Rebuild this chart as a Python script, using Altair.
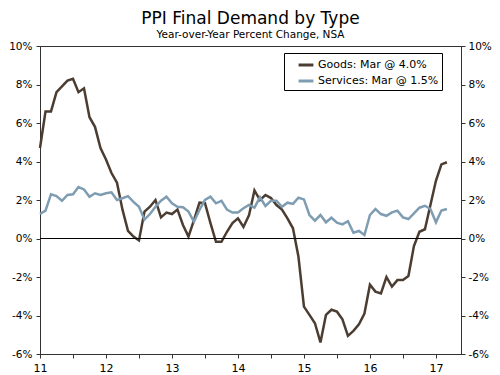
import altair as alt
import pandas as pd

# Monthly data Jan 2011 .. Mar 2017 (75 months)
goods = [4.7, 6.6, 6.6, 7.6, 7.9, 8.2, 8.3, 7.6, 7.8, 6.3, 5.8, 4.7,
         4.1, 3.4, 2.9, 1.5, 0.4, 0.1, -0.1, 1.4, 1.65, 2.0, 1.1, 1.35,
         1.27, 1.5, 0.7, 0.1, 0.96, 1.86, 1.83, 0.8, -0.17, -0.17, 0.35, 0.8,
         1.05, 0.6, 1.2, 2.5, 2.0, 2.26, 2.1, 1.74, 1.5, 1.05, 0.53, -0.95,
         -3.54, -3.97, -4.4, -5.4, -3.97, -3.7, -3.8, -4.2, -5.06, -4.8, -4.46, -3.9,
         -2.4, -2.76, -2.85, -2.0, -2.5, -2.16, -2.16, -1.95, -0.39, 0.35, 0.48, 1.74,
         3.0, 3.85, 3.96]
services = [1.27, 1.45, 2.3, 2.2, 1.96, 2.26, 2.3, 2.67, 2.55, 2.17, 2.35, 2.26,
            2.35, 2.4, 2.0, 2.09, 2.2, 1.9, 1.65, 0.98, 1.27, 1.65, 1.96, 2.17,
            1.83, 1.65, 1.62, 1.4, 0.87, 1.48, 2.0, 2.17, 1.83, 1.96, 1.5, 1.35,
            1.35, 1.57, 1.74, 1.6, 2.14, 1.69, 1.96, 1.96, 1.65, 1.86, 1.8, 2.12,
            2.03, 1.22, 0.93, 1.22, 0.84, 1.08, 0.82, 0.73, 0.9, 0.3, 0.39, 0.18,
            1.22, 1.53, 1.27, 1.18, 1.36, 1.45, 1.1, 1.01, 1.31, 1.6, 1.7, 1.53,
            0.84, 1.45, 1.53]
series_names = ["Goods: Mar @ 4.0%", "Services: Mar @ 1.5%"]
series_colors = ["#4b3d32", "#7f9db2"]
start_year = 2011
y_ticks = [-6, -4, -2, 0, 2, 4, 6, 8, 10]
x_ticks = [2011, 2011.5, 2012, 2012.5, 2013, 2013.5, 2014, 2014.5,
           2015, 2015.5, 2016, 2016.5, 2017]

rows = []
for name, vals in zip(series_names, [goods, services]):
    for i, v in enumerate(vals):
        rows.append({"t": start_year + i / 12.0, "v": v, "series": name})
df = pd.DataFrame(rows)

FONT = "DejaVu Sans"
xscale = alt.Scale(domain=[2011, 2017.38], nice=False, zero=False)
yscale = alt.Scale(domain=[-6, 10], nice=False, zero=False)

lines = alt.Chart(df).mark_line(strokeWidth=2.5).encode(
    x=alt.X("t:Q", scale=xscale,
            axis=alt.Axis(values=x_ticks, title=None, grid=False, labelFlush=False,
                          labelExpr="datum.value % 1 == 0 ? format(datum.value - 2000, 'd') : ''",
                          tickSize=4, labelPadding=4, domainColor="#333", tickColor="#333",
                          labelFontSize=11, labelColor="black")),
    y=alt.Y("v:Q", scale=yscale,
            axis=alt.Axis(values=y_ticks, title=None, grid=False, orient="left",
                          labelExpr="datum.value + '%'", labelFlush=False,
                          tickSize=4, labelPadding=4, domainColor="#333", tickColor="#333",
                          labelFontSize=10.5, labelColor="black")),
    color=alt.Color("series:N",
                    scale=alt.Scale(domain=series_names, range=series_colors),
                    legend=alt.Legend(title=None, orient="none", legendX=244, legendY=7,
                                      symbolType="stroke", symbolStrokeWidth=3,
                                      symbolSize=220, symbolOffset=10, labelOffset=3,
                                      labelFontSize=11, labelColor="black",
                                      padding=3, rowPadding=1,
                                      strokeColor="black", fillColor="white")),
)

zero_df = pd.DataFrame({"z": [0]})
zero = alt.Chart(zero_df).mark_rule(color="black", strokeWidth=1).encode(
    y=alt.Y("z:Q", scale=yscale,
            axis=alt.Axis(values=y_ticks, title=None, grid=False, orient="right",
                          labelExpr="datum.value + '%'", labelFlush=False,
                          tickSize=4, labelPadding=3, domainColor="#333", tickColor="#333",
                          labelFontSize=10.5, labelColor="black")),
)

chart = alt.layer(lines, zero).resolve_scale(y="independent").properties(
    width=421, height=308,
    autosize=alt.AutoSizeParams(type="none"),
    padding={"left": 32, "top": 38, "right": 31, "bottom": 20},
    title=alt.TitleParams(text="PPI Final Demand by Type",
                          subtitle="Year-over-Year Percent Change, NSA",
                          fontSize=17, fontWeight="normal", subtitleFontSize=10.5,
                          font=FONT, subtitleFont=FONT, color="black", subtitleColor="black",
                          anchor="middle", offset=0, subtitlePadding=2),
).configure(font=FONT).configure_view(stroke="#333", strokeWidth=1)

chart.save("out.html", embed_options={"renderer": "svg", "actions": False})
